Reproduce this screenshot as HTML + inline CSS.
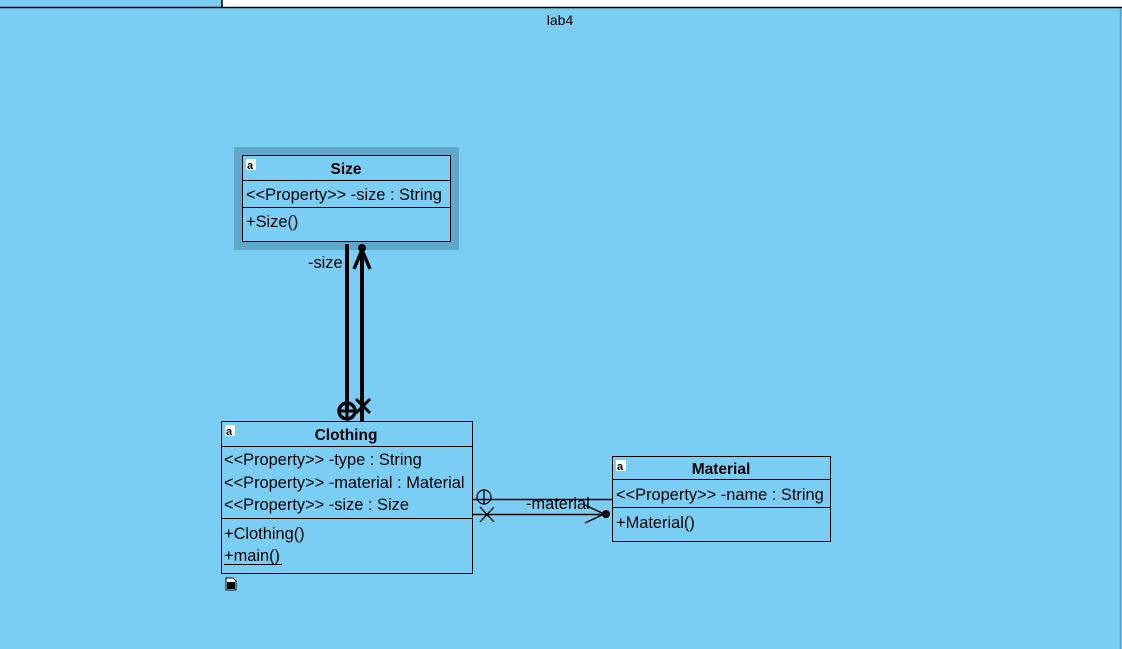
<!DOCTYPE html>
<html><head><meta charset="utf-8"><style>
html,body{margin:0;padding:0;width:1122px;height:649px;overflow:hidden;background:#fff}
svg{display:block}
text{font-family:"Liberation Sans",Arial,sans-serif;font-size:16.4px;fill:#000}
</style></head><body>
<svg width="1122" height="649" viewBox="0 0 1122 649" xmlns="http://www.w3.org/2000/svg">
<rect x="0" y="0" width="222" height="8" fill="#7acef4"/>
<line x1="222" y1="0" x2="222" y2="8" stroke="#000" stroke-width="1.5"/>
<rect x="0" y="8" width="1122" height="641" fill="#7acef4"/>
<line x1="0" y1="7.5" x2="1122" y2="7.5" stroke="#000" stroke-width="1.5"/>
<line x1="1120.5" y1="8" x2="1120.5" y2="649" stroke="#5a9fc0" stroke-width="1.5"/>
<text x="560" y="25" text-anchor="middle" style="font-size:14px">lab4</text>

<!-- Size -->
<rect x="234" y="147" width="225" height="103" fill="#5fa8cc"/>
<rect x="242.5" y="155.5" width="208" height="86" fill="#7acef4" stroke="#000"/>
<line x1="242" y1="180.5" x2="451" y2="180.5" stroke="#000"/>
<line x1="242" y1="207.5" x2="451" y2="207.5" stroke="#000"/>
<rect x="246" y="159" width="10" height="11" fill="#fff"/><text x="247" y="169" style="font-size:11px" font-weight="bold">a</text>
<text x="346" y="174" text-anchor="middle" font-weight="bold" style="font-size:15.5px">Size</text>
<text x="246" y="200">&lt;&lt;Property&gt;&gt; -size : String</text>
<text x="246" y="227">+Size()</text>

<!-- Clothing -->
<rect x="221.5" y="421.5" width="251" height="152" fill="#7acef4" stroke="#000"/>
<line x1="221" y1="446.5" x2="473" y2="446.5" stroke="#000"/>
<line x1="221" y1="518.5" x2="473" y2="518.5" stroke="#000"/>
<rect x="225" y="425" width="10" height="11" fill="#fff"/><text x="226" y="435" style="font-size:11px" font-weight="bold">a</text>
<text x="346" y="440" text-anchor="middle" font-weight="bold" style="font-size:15.5px">Clothing</text>
<text x="224" y="465">&lt;&lt;Property&gt;&gt; -type : String</text>
<text x="224" y="488">&lt;&lt;Property&gt;&gt; -material : Material</text>
<text x="224" y="510">&lt;&lt;Property&gt;&gt; -size : Size</text>
<text x="224" y="539">+Clothing()</text>
<text x="224" y="561">+main()</text>
<line x1="224" y1="564.5" x2="282" y2="564.5" stroke="#000"/>
<path d="M226 578h7l3 3v9h-10z" fill="#fff" stroke="#000"/>
<rect x="227" y="582" width="8" height="7" fill="#000"/>

<!-- Material -->
<rect x="612.5" y="456.5" width="218" height="85" fill="#7acef4" stroke="#000"/>
<line x1="612" y1="479.5" x2="831" y2="479.5" stroke="#000"/>
<line x1="612" y1="507.5" x2="831" y2="507.5" stroke="#000"/>
<rect x="616" y="460" width="10" height="11" fill="#fff"/><text x="617" y="470" style="font-size:11px" font-weight="bold">a</text>
<text x="721" y="474" text-anchor="middle" font-weight="bold" style="font-size:15.5px">Material</text>
<text x="616" y="500">&lt;&lt;Property&gt;&gt; -name : String</text>
<text x="616" y="528">+Material()</text>

<!-- Size connectors -->
<line x1="347" y1="244" x2="347" y2="410" stroke="#000" stroke-width="4"/>
<line x1="362" y1="248" x2="362" y2="421" stroke="#000" stroke-width="4"/>
<circle cx="362" cy="248" r="4" fill="#000"/>
<polyline points="354,269 362,250 370,269" fill="none" stroke="#000" stroke-width="3.5"/>
<circle cx="347" cy="411" r="8" fill="none" stroke="#000" stroke-width="3.5"/>
<line x1="339" y1="411" x2="355" y2="411" stroke="#000" stroke-width="3"/>
<line x1="347" y1="403" x2="347" y2="419" stroke="#000" stroke-width="3"/>
<line x1="356" y1="399" x2="370" y2="413" stroke="#000" stroke-width="3"/>
<line x1="370" y1="399" x2="356" y2="413" stroke="#000" stroke-width="3"/>
<text x="308" y="268">-size</text>

<!-- Material connectors -->
<line x1="473" y1="499.5" x2="612" y2="499.5" stroke="#000" stroke-width="1.5"/>
<line x1="473" y1="514.5" x2="606" y2="514.5" stroke="#000" stroke-width="1.5"/>
<circle cx="484" cy="497" r="7" fill="none" stroke="#000" stroke-width="1.3"/>
<line x1="484" y1="490" x2="484" y2="504" stroke="#000" stroke-width="1.3"/>
<line x1="480" y1="507" x2="494" y2="522" stroke="#000" stroke-width="1.3"/>
<line x1="494" y1="507" x2="480" y2="522" stroke="#000" stroke-width="1.3"/>
<circle cx="606" cy="514" r="4" fill="#000"/>
<polyline points="585,505 604,514 585,523" fill="none" stroke="#000" stroke-width="1.5"/>
<text x="526" y="509">-material</text>
</svg>
</body></html>
